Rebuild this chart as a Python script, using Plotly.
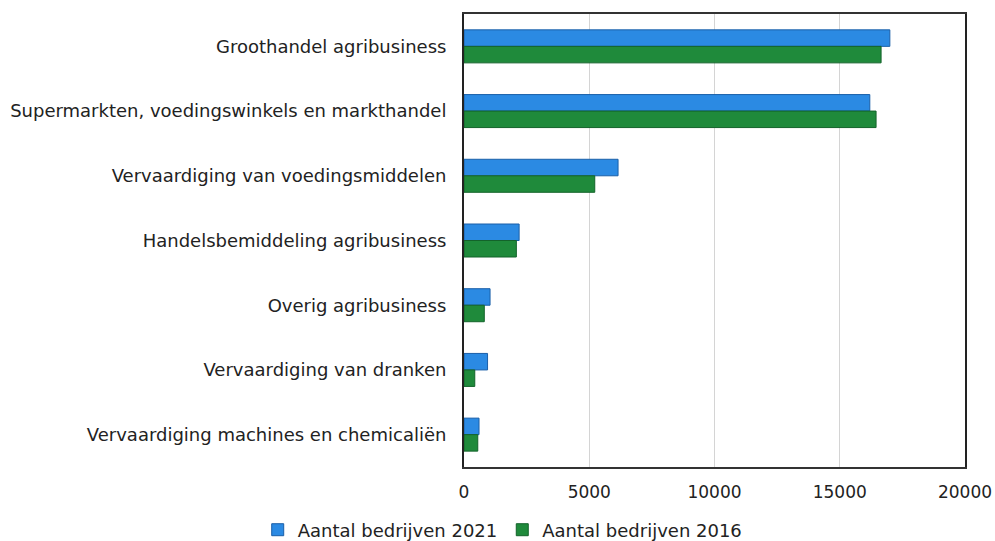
import plotly.graph_objects as go

categories = [
    "Groothandel agribusiness",
    "Supermarkten, voedingswinkels en markthandel",
    "Vervaardiging van voedingsmiddelen",
    "Handelsbemiddeling agribusiness",
    "Overig agribusiness",
    "Vervaardiging van dranken",
    "Vervaardiging machines en chemicaliën",
]
values_2021 = [17000, 16200, 6150, 2200, 1040, 940, 600]
values_2016 = [16650, 16450, 5220, 2090, 810, 430, 550]
tick_vals = [0, 5000, 10000, 15000, 20000]

font_family = "DejaVu Sans"

fig = go.Figure()
fig.add_trace(go.Bar(
    y=categories, x=values_2021, orientation="h", name="Aantal bedrijven 2021",
    marker=dict(color="#2b8ae3", line=dict(color="#1a5fa8", width=1)),
))
fig.add_trace(go.Bar(
    y=categories, x=values_2016, orientation="h", name="Aantal bedrijven 2016",
    marker=dict(color="#1f8a3b", line=dict(color="#13632a", width=1)),
))

fig.update_layout(
    width=995, height=541,
    margin=dict(l=464, r=30, t=14, b=74, autoexpand=False),
    paper_bgcolor="white", plot_bgcolor="white",
    barmode="group", bargap=0.49, bargroupgap=0,
    font=dict(family=font_family, size=18, color="#222"),
    showlegend=True,
    legend=dict(orientation="h", xref="container", yref="container",
                x=0.259, xanchor="left", y=0.0203, yanchor="middle",
                font=dict(size=18, color="#222"), itemwidth=30, traceorder="normal"),
)
fig.update_xaxes(
    range=[0, 20000], tickvals=tick_vals, ticktext=[str(v) for v in tick_vals],
    showgrid=True, gridcolor="#d4d4d4", gridwidth=1,
    showline=True, linecolor="#333", linewidth=2, mirror=True,
    zeroline=False, ticks="outside", ticklen=9, tickcolor="rgba(0,0,0,0)",
    tickfont=dict(size=17, color="#222"),
)
fig.update_yaxes(
    autorange="reversed", showline=True, linecolor="#222", linewidth=2, mirror=True,
    ticks="outside", ticklen=12, tickcolor="rgba(0,0,0,0)",
    tickfont=dict(size=18, color="#222"),
)
fig.write_html(
    "out.html",
    config={"displayModeBar": False},
    post_script="document.body.style.margin='0';document.body.style.overflow='hidden';",
)
